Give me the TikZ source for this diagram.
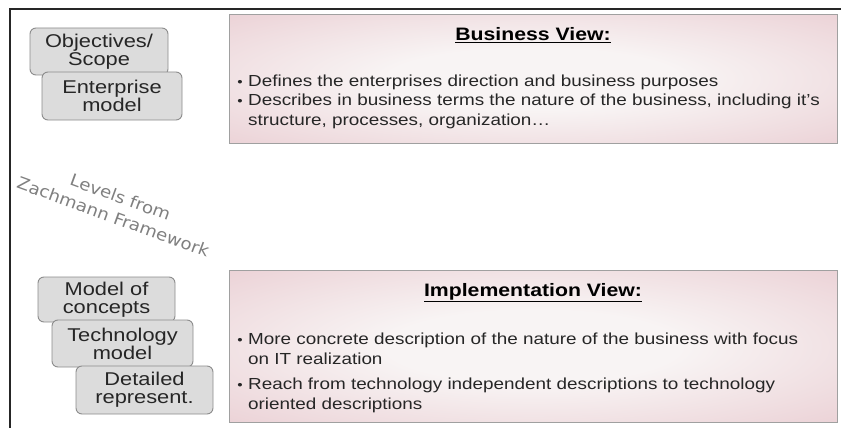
\documentclass[tikz,border=0pt]{standalone}
\usepackage{fontspec}
\setmainfont{Liberation Sans}[FakeStretch=1.18]
\newfontfamily\lvlfont{DejaVu Sans}[FakeStretch=1.1]
\usetikzlibrary{shadows}
\definecolor{pinkedge}{HTML}{E4BEC5}
\definecolor{pinkmid}{HTML}{F8F4F4}
\definecolor{boxline}{HTML}{A0A0A0}
\definecolor{grayfill}{HTML}{DCDCDC}
\definecolor{grayline}{HTML}{8C8C8C}
\definecolor{txt}{HTML}{262626}
\definecolor{lvl}{HTML}{808080}
\pgfdeclareradialshading{pinkglow}{\pgfpoint{0bp}{0bp}}{color(0bp)=(pinkmid); color(12bp)=(pinkmid); color(50bp)=(pinkedge)}
\tikzset{
  frame/.style={draw=black!85, line width=1.3pt},
  viewbox/.style={draw=boxline, line width=0.8pt, shading=pinkglow, anchor=north west, inner sep=0pt,
    drop shadow={shadow xshift=1pt, shadow yshift=-1pt, opacity=0.35, fill=black}},
  level/.style={draw=grayline, fill=grayfill, line width=0.9pt, rounded corners=6pt, align=center,
    text=txt, inner sep=0pt, font=\fontsize{18.5}{18}\selectfont},
  header/.style={anchor=base, text=black, font=\bfseries\fontsize{18}{18}\selectfont},
  bline/.style={anchor=base west, text=txt, inner sep=0pt, font=\fontsize{16}{16}\selectfont},
  bdot/.style={anchor=base, text=txt, inner sep=0pt, font=\fontsize{13}{13}\selectfont},
}
\begin{document}
\begin{tikzpicture}[x=1pt, y=-1pt]
\useasboundingbox (0,0) rectangle (841,428);
\fill[white] (0,0) rectangle (841,428);
% frame
\coordinate (f1) at (10,428);
\coordinate (f2) at (10,9);
\coordinate (f3) at (841,9);
\draw[frame] (f1) -- (f2) -- (f3);
% pink view boxes
\node[viewbox, minimum width=608pt, minimum height=129pt] (bv) at (229,14) {};
\node[viewbox, minimum width=608pt, minimum height=152pt] (iv) at (229,270) {};
% business view text
\node[header] (bvh) at (533,41) {\underline{Business View:}};
\node[bdot] (bd1) at (240,87) {•};
\node[bline] (bl1) at (248,87) {Defines the enterprises direction and business purposes};
\node[bdot] (bd2) at (240,106) {•};
\node[bline] (bl2) at (248,106) {Describes in business terms the nature of the business, including it's};
\node[bline] (bl3) at (248,125) {structure, processes, organization\dots};
% implementation view text
\node[header] (ivh) at (533,296) {\underline{Implementation View:}};
\node[bdot] (id1) at (240,344) {•};
\node[bline] (il1) at (248,344) {More concrete description of the nature of the business with focus};
\node[bline] (il2) at (248,364) {on IT realization};
\node[bdot] (id2) at (240,389) {•};
\node[bline] (il3) at (248,389) {Reach from technology independent descriptions to technology};
\node[bline] (il4) at (248,409) {oriented descriptions};
% levels
\node[level, minimum width=138pt, minimum height=47pt] (obj) at (99,51.5) {Objectives/\\Scope};
\node[level, minimum width=140pt, minimum height=48pt] (ent) at (112,96) {Enterprise\\model};
\node[level, minimum width=137pt, minimum height=45pt] (moc) at (106.5,299.5) {Model of\\concepts};
\node[level, minimum width=141pt, minimum height=47pt] (tec) at (122.5,343.5) {Technology\\model};
\node[level, minimum width=137pt, minimum height=48pt] (det) at (144.5,390) {Detailed\\represent.};
% rotated caption
\node[rotate=-20, align=center, text=lvl, font=\lvlfont\fontsize{16.5}{21}\selectfont] (zach) at (117,207) {Levels from\\Zachmann Framework};
\end{tikzpicture}
\end{document}
